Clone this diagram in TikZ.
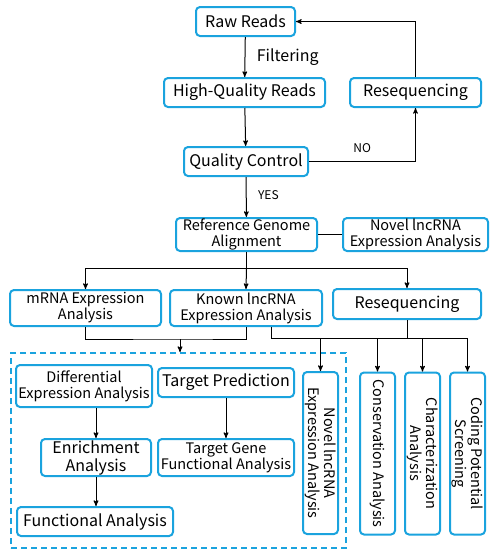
\documentclass[tikz,border=0pt]{standalone}
\usepackage{fontspec}
\setmainfont{Noto Sans CJK SC}
\usetikzlibrary{arrows}
\definecolor{boxblue}{HTML}{1AA3DE}

\begin{document}
\begin{tikzpicture}[x=1pt,y=-1pt,>=stealth',line width=1pt,
    box/.style={draw=boxblue,line width=2pt,rounded corners=4pt,inner sep=0pt,align=center,font=\fontsize{14.5}{16}\selectfont},
    big/.style={font=\fontsize{16}{18}\selectfont},
    vbox/.style={box,rotate=-90,minimum width=162,minimum height=35},
    lbl/.style={font=\fontsize{12}{14}\selectfont}]
                \useasboundingbox (0,0) rectangle (494,558);
                % top loop
                \node[box,big,minimum width=99,minimum height=29](raw)at(245.5, 21.5){Raw Reads};
                \node[box,big,minimum width=161,minimum height=29](hq)at(244.5, 92.5){High-Quality Reads};
                \node[box,big,minimum width=131,minimum height=29](reseqA)at(415.5, 92.5){Resequencing};
                \node[box,big,minimum width=124,minimum height=29](qc)at(246, 161.5){Quality Control};
                \node[box,minimum width=141,minimum height=33](ref)at(246.5, 234.5){Reference Genome\\Alignment};
                \node[box,minimum width=145,minimum height=33](novelA)at(415.5, 234.5){Novel lncRNA\\Expression Analysis};
                % second row
                \node[box,minimum width=151,minimum height=36](mrna)at(85.5, 308){mRNA Expression\\Analysis};
                \node[box,minimum width=152,minimum height=36](known)at(246, 308){Known lncRNA\\Expression Analysis};
                \node[box,big,minimum width=148,minimum height=30](reseqB)at(407, 304){Resequencing};
                % dashed group
                \node[draw=boxblue,line width=2pt,dash pattern=on 6pt off 4pt,minimum width=335,minimum height=195,inner sep=0pt](grp)at(178.5, 450.5){};
                \node[box,minimum width=136,minimum height=42](diff)at(84, 386){Differential\\Expression Analysis};
                \node[box,big,minimum width=136,minimum height=29](target)at(226, 382.5){Target Prediction};
                \node[box,big,minimum width=110,minimum height=37](enrich)at(96, 457.5){Enrichment\\Analysis};
                \node[box,minimum width=136,minimum height=37](tgene)at(226, 457.5){Target Gene\\Functional Analysis};
                \node[box,big,minimum width=156,minimum height=29](func)at(95, 521.5){Functional Analysis};
                % vertical boxes
                \node[vbox](novelB)at(320.5, 453){Novel lncRNA\\Expression Analysis};
                \node[vbox](cons)at(377.5, 453.5){Conservation Analysis};
                \node[vbox](charac)at(422.5, 453.5){Characterization\\Analysis};
                \node[vbox](coding)at(467.5, 453.5){Coding Potential\\Screening};
                % connectors
                \coordinate(split)at(246.5, 268);
                \coordinate(merge)at(180, 339);
                \coordinate(fork)at(271.5, 338);
                \path[->](raw) edge node[big,right=8pt]{Filtering} (hq)
                (hq) edge (qc)
                (qc) edge node[lbl,right=8pt,pos=0.45]{YES} (ref);
                \draw[->](qc.east) -| node[lbl,above=5pt,pos=0.25]{NO} (reseqA.south);
                \draw[->](reseqA.north) |- (raw.east);
                \draw(ref) -- (novelA);
                \draw(ref.south) -- (split);
                \draw[->](split) -| (mrna.north);
                \draw[->](split) -- (known.north);
                \draw[->](split) -| (reseqB.north);
                \draw(mrna.south) |- (merge) -| (known.south);
                \draw[->](merge) -- (merge |- grp.north);
                \draw(known.south -| fork) -- (fork) -- (fork -| coding);
                \draw(reseqB.south) -- (reseqB.south |- fork);
                \draw[->](fork -| novelB) -- (novelB.west);
                \draw[->](fork -| cons) -- (cons.west);
                \draw[->](fork -| charac) -- (charac.west);
                \draw[->](fork -| coding) -- (coding.west);
                \path[->](diff.south -| enrich) edge (enrich)
                (enrich) edge (enrich.south |- func.north)
                (target.south -| tgene) edge (tgene);
\end{tikzpicture}
\end{document}
